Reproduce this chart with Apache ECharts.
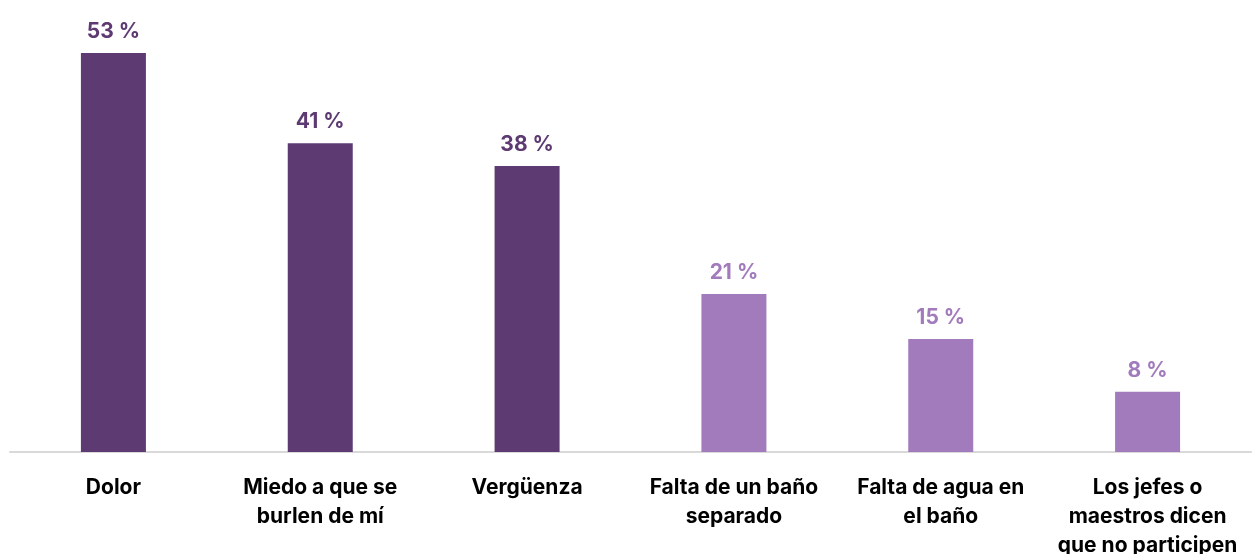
<!DOCTYPE html>
<html>
<head>
<meta charset="utf-8">
<script src="https://cdn.jsdelivr.net/npm/echarts@6/dist/echarts.min.js"></script>
<style>
  html, body { margin: 0; padding: 0; background: #fff; }
  #chart { width: 1252px; height: 554px; }
</style>
</head>
<body>
<div id="chart"></div>
<script>
// datos
var categorias = [
  'Dolor',
  'Miedo a que se\nburlen de mí',
  'Vergüenza',
  'Falta de un baño\nseparado',
  'Falta de agua en\nel baño',
  'Los jefes o\nmaestros dicen\nque no participen'
];
var valores = [53, 41, 38, 21, 15, 8];
var grupo = ['oscuro', 'oscuro', 'oscuro', 'claro', 'claro', 'claro'];

var colores = { oscuro: '#5E3A72', claro: '#A27BBD' };

var myChart = echarts.init(document.getElementById('chart'));

var option = {
  animation: false,
  grid: { left: 10, right: 1, top: 53, bottom: 102, outerBoundsMode: 'none', containLabel: false },
  xAxis: {
    type: 'category',
    data: categorias,
    axisLine: { show: true, lineStyle: { color: '#d9d9d9', width: 2 } },
    axisTick: { show: false },
    axisLabel: {
      interval: 0,
      margin: 21,
      color: '#000',
      fontFamily: 'Inter',
      fontWeight: 'bold',
      fontSize: 21,
      lineHeight: 29
    }
  },
  yAxis: {
    type: 'value',
    min: 0,
    max: 53,
    show: false
  },
  series: [{
    type: 'bar',
    barWidth: 65,
    data: valores.map(function (v, i) {
      return {
        value: v,
        itemStyle: { color: colores[grupo[i]] },
        label: { color: colores[grupo[i]] }
      };
    }),
    label: {
      show: true,
      position: 'top',
      distance: 11,
      fontFamily: 'Inter',
      fontWeight: 'bold',
      fontSize: 21,
      formatter: '{c} %'
    }
  }]
};

myChart.setOption(option);
</script>
</body>
</html>
